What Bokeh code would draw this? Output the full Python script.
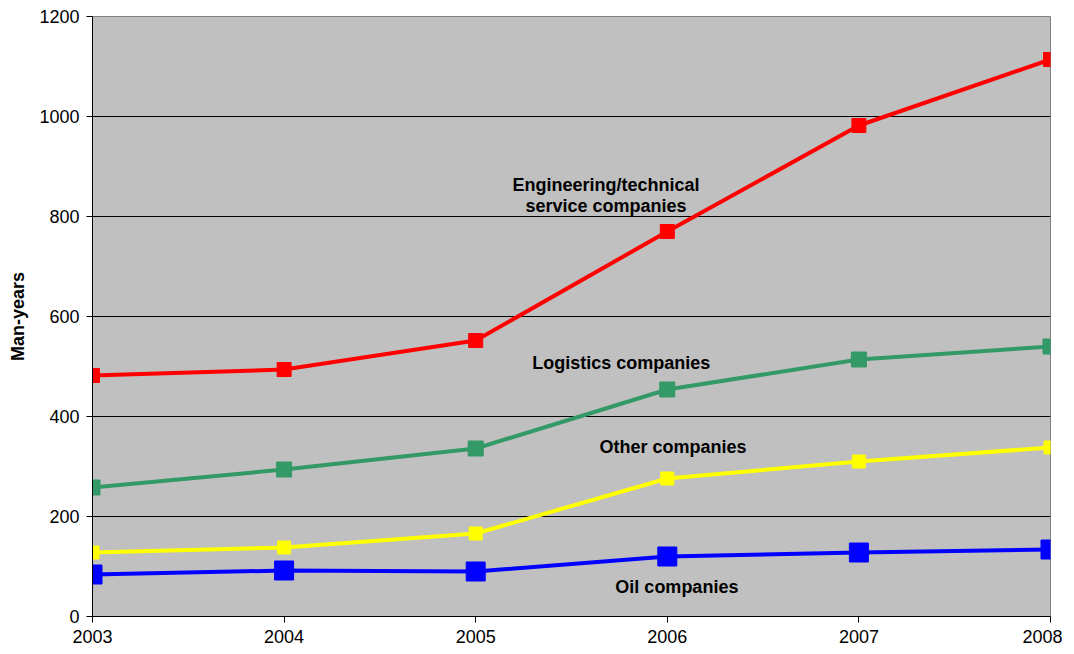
from bokeh.plotting import figure
from bokeh.models import Range1d, FixedTicker, ColumnDataSource
from bokeh.core.properties import value
from bokeh.embed import file_html
from bokeh.resources import INLINE

years = [2003, 2004, 2005, 2006, 2007, 2008]
engineering = [482, 494, 552, 770, 982, 1114]
logistics = [258, 294, 336, 454, 514, 540]
other = [128, 138, 166, 276, 310, 338]
oil = [84, 92, 90, 120, 128, 134]

label_text = ["Engineering/technical", "service companies", "Logistics companies", "Other companies", "Oil companies"]
label_x = [2005.68, 2005.68, 2005.76, 2006.03, 2006.05]
label_y = [864, 822, 508, 340, 60]

y_ticks = [0, 200, 400, 600, 800, 1000, 1200]

p = figure(width=1062, height=646, output_backend="svg", toolbar_location=None,
           x_range=Range1d(2003, 2008), y_range=Range1d(0, 1200),
           min_border_left=92, min_border_right=12, min_border_top=16, min_border_bottom=30)
p.frame_width = 958
p.frame_height = 600
p.background_fill_color = "#C0C0C0"
p.border_fill_color = "white"
p.outline_line_color = "#808080"
p.outline_line_width = 1

p.xgrid.grid_line_color = None
p.ygrid.grid_line_color = "black"
p.ygrid.grid_line_width = 1
p.ygrid.ticker = FixedTicker(ticks=y_ticks)

p.yaxis.ticker = FixedTicker(ticks=y_ticks)
p.xaxis.ticker = FixedTicker(ticks=years)
for ax in (p.xaxis, p.yaxis):
    ax.axis_line_color = "black"
    ax.axis_line_width = 1
    ax.major_tick_line_color = "black"
    ax.major_tick_out = 6
    ax.major_tick_in = 0
    ax.minor_tick_line_color = None
    ax.major_label_text_font = "Liberation Sans"
    ax.major_label_text_font_size = "18px"
    ax.major_label_text_color = "black"
p.xaxis.major_label_standoff = 7
p.yaxis.major_label_standoff = 7

p.yaxis.axis_label = "Man-years"
p.yaxis.axis_label_text_font = "Liberation Sans"
p.yaxis.axis_label_text_font_style = "bold"
p.yaxis.axis_label_text_font_size = "18px"
p.yaxis.axis_label_text_color = "black"
p.yaxis.axis_label_standoff = 8

series = [
    (engineering, "#FF0000", 14),
    (logistics, "#339966", 15),
    (other, "#FFFF00", 13),
    (oil, "#0000FF", 19),
]
for vals, col, sz in series:
    p.line(years, vals, line_color=col, line_width=4)
    p.scatter(years, vals, marker="square", size=sz, fill_color=col, line_color=col)

src = ColumnDataSource(dict(x=label_x, y=label_y, t=label_text))
p.text(x="x", y="y", text="t", source=src, text_align="center", text_baseline="middle",
       text_font=value("Liberation Sans"), text_font_style="bold", text_font_size="18px",
       text_color="black")

open("out.html", "w").write(file_html(p, INLINE))
